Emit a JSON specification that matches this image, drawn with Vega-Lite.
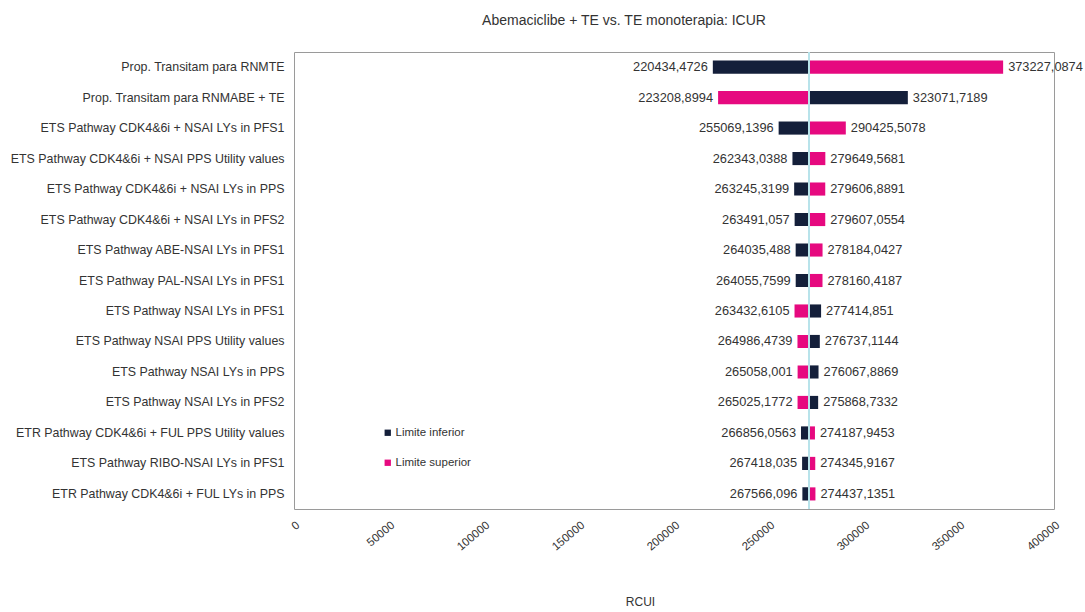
{
  "$schema": "https://vega.github.io/schema/vega-lite/v6.json",
  "autosize": {"type": "none"},
  "padding": {"left": 294, "top": 52, "right": 31, "bottom": 103},
  "width": 760,
  "height": 457,
  "background": "white",
  "title": {
    "text": "Abemaciclibe + TE vs. TE monoterapia: ICUR",
    "anchor": "middle",
    "frame": "group",
    "dx": -50,
    "offset": 24,
    "font": "Liberation Sans",
    "fontSize": 14,
    "fontWeight": "normal",
    "color": "#333333"
  },
  "config": {
    "locale": {"number": {"decimal": ",", "thousands": "", "grouping": [3], "currency": ["", ""]}},
    "view": {"stroke": "#9a9a9a", "strokeWidth": 1},
    "font": "Liberation Sans"
  },
  "data": {
    "values": [
      {"parametro": "Prop. Transitam para RNMTE", "limite": "Limite inferior", "valor": 220434.4726},
      {"parametro": "Prop. Transitam para RNMTE", "limite": "Limite superior", "valor": 373227.0874},
      {"parametro": "Prop. Transitam para RNMABE + TE", "limite": "Limite inferior", "valor": 323071.7189},
      {"parametro": "Prop. Transitam para RNMABE + TE", "limite": "Limite superior", "valor": 223208.8994},
      {"parametro": "ETS Pathway CDK4&6i + NSAI LYs in PFS1", "limite": "Limite inferior", "valor": 255069.1396},
      {"parametro": "ETS Pathway CDK4&6i + NSAI LYs in PFS1", "limite": "Limite superior", "valor": 290425.5078},
      {"parametro": "ETS Pathway CDK4&6i + NSAI PPS Utility values", "limite": "Limite inferior", "valor": 262343.0388},
      {"parametro": "ETS Pathway CDK4&6i + NSAI PPS Utility values", "limite": "Limite superior", "valor": 279649.5681},
      {"parametro": "ETS Pathway CDK4&6i + NSAI LYs in PPS", "limite": "Limite inferior", "valor": 263245.3199},
      {"parametro": "ETS Pathway CDK4&6i + NSAI LYs in PPS", "limite": "Limite superior", "valor": 279606.8891},
      {"parametro": "ETS Pathway CDK4&6i + NSAI LYs in PFS2", "limite": "Limite inferior", "valor": 263491.057},
      {"parametro": "ETS Pathway CDK4&6i + NSAI LYs in PFS2", "limite": "Limite superior", "valor": 279607.0554},
      {"parametro": "ETS Pathway ABE-NSAI LYs in PFS1", "limite": "Limite inferior", "valor": 264035.488},
      {"parametro": "ETS Pathway ABE-NSAI LYs in PFS1", "limite": "Limite superior", "valor": 278184.0427},
      {"parametro": "ETS Pathway PAL-NSAI LYs in PFS1", "limite": "Limite inferior", "valor": 264055.7599},
      {"parametro": "ETS Pathway PAL-NSAI LYs in PFS1", "limite": "Limite superior", "valor": 278160.4187},
      {"parametro": "ETS Pathway NSAI LYs in PFS1", "limite": "Limite inferior", "valor": 277414.851},
      {"parametro": "ETS Pathway NSAI LYs in PFS1", "limite": "Limite superior", "valor": 263432.6105},
      {"parametro": "ETS Pathway NSAI PPS Utility values", "limite": "Limite inferior", "valor": 276737.1144},
      {"parametro": "ETS Pathway NSAI PPS Utility values", "limite": "Limite superior", "valor": 264986.4739},
      {"parametro": "ETS Pathway NSAI LYs in PPS", "limite": "Limite inferior", "valor": 276067.8869},
      {"parametro": "ETS Pathway NSAI LYs in PPS", "limite": "Limite superior", "valor": 265058.001},
      {"parametro": "ETS Pathway NSAI LYs in PFS2", "limite": "Limite inferior", "valor": 275868.7332},
      {"parametro": "ETS Pathway NSAI LYs in PFS2", "limite": "Limite superior", "valor": 265025.1772},
      {"parametro": "ETR Pathway CDK4&6i + FUL PPS Utility values", "limite": "Limite inferior", "valor": 266856.0563},
      {"parametro": "ETR Pathway CDK4&6i + FUL PPS Utility values", "limite": "Limite superior", "valor": 274187.9453},
      {"parametro": "ETS Pathway RIBO-NSAI LYs in PFS1", "limite": "Limite inferior", "valor": 267418.035},
      {"parametro": "ETS Pathway RIBO-NSAI LYs in PFS1", "limite": "Limite superior", "valor": 274345.9167},
      {"parametro": "ETR Pathway CDK4&6i + FUL LYs in PPS", "limite": "Limite inferior", "valor": 267566.096},
      {"parametro": "ETR Pathway CDK4&6i + FUL LYs in PPS", "limite": "Limite superior", "valor": 274437.1351}
    ]
  },
  "encoding": {
    "y": {
      "field": "parametro",
      "type": "nominal",
      "sort": null,
      "scale": {"paddingInner": 0.57, "paddingOuter": 0.28},
      "axis": {
        "title": null,
        "domain": false,
        "ticks": false,
        "labelPadding": 10,
        "labelFont": "Liberation Sans",
        "labelFontSize": 12.4,
        "labelColor": "#333333",
        "labelLimit": 400
      }
    }
  },
  "layer": [
    {
      "mark": {"type": "bar"},
      "encoding": {
        "x": {
          "field": "valor",
          "type": "quantitative",
          "scale": {"domain": [0, 400000], "nice": false, "zero": true},
          "axis": {
            "title": "RCUI",
            "titleFont": "Liberation Sans",
            "titleFontSize": 12,
            "titleFontWeight": "normal",
            "titleColor": "#333333",
            "titleX": 346,
            "titleY": 87,
            "values": [0, 50000, 100000, 150000, 200000, 250000, 300000, 350000, 400000],
            "format": "d",
            "labelAngle": -40,
            "labelFont": "Liberation Sans",
            "labelFontSize": 11.5,
            "labelColor": "#333333",
            "labelPadding": 10,
            "grid": false,
            "domain": false,
            "ticks": false
          }
        },
        "x2": {"datum": 271000},
        "color": {
          "field": "limite",
          "type": "nominal",
          "scale": {"domain": ["Limite inferior", "Limite superior"], "range": ["#141f3a", "#e6097f"]},
          "legend": {
            "title": null,
            "orient": "none",
            "legendX": 88,
            "legendY": 375,
            "symbolType": "square",
            "symbolSize": 40,
            "symbolStrokeWidth": 0,
            "rowPadding": 17,
            "labelFont": "Liberation Sans",
            "labelFontSize": 11.5,
            "labelColor": "#333333",
            "labelOffset": 2
          }
        }
      }
    },
    {
      "mark": {"type": "rule", "color": "#b9e3ea", "strokeWidth": 1},
      "encoding": {"x": {"datum": 271000}, "y": {"value": 0}, "y2": {"value": 457}}
    },
    {
      "transform": [{"filter": "datum.valor < 271000"}],
      "mark": {"type": "text", "align": "right", "dx": -5, "font": "Liberation Sans", "fontSize": 12.8, "color": "#333333"},
      "encoding": {
        "x": {"field": "valor", "type": "quantitative"},
        "text": {"field": "valor", "type": "quantitative", "format": ".4~f"}
      }
    },
    {
      "transform": [{"filter": "datum.valor >= 271000"}],
      "mark": {"type": "text", "align": "left", "dx": 5, "font": "Liberation Sans", "fontSize": 12.8, "color": "#333333"},
      "encoding": {
        "x": {"field": "valor", "type": "quantitative"},
        "text": {"field": "valor", "type": "quantitative", "format": ".4~f"}
      }
    }
  ]
}
